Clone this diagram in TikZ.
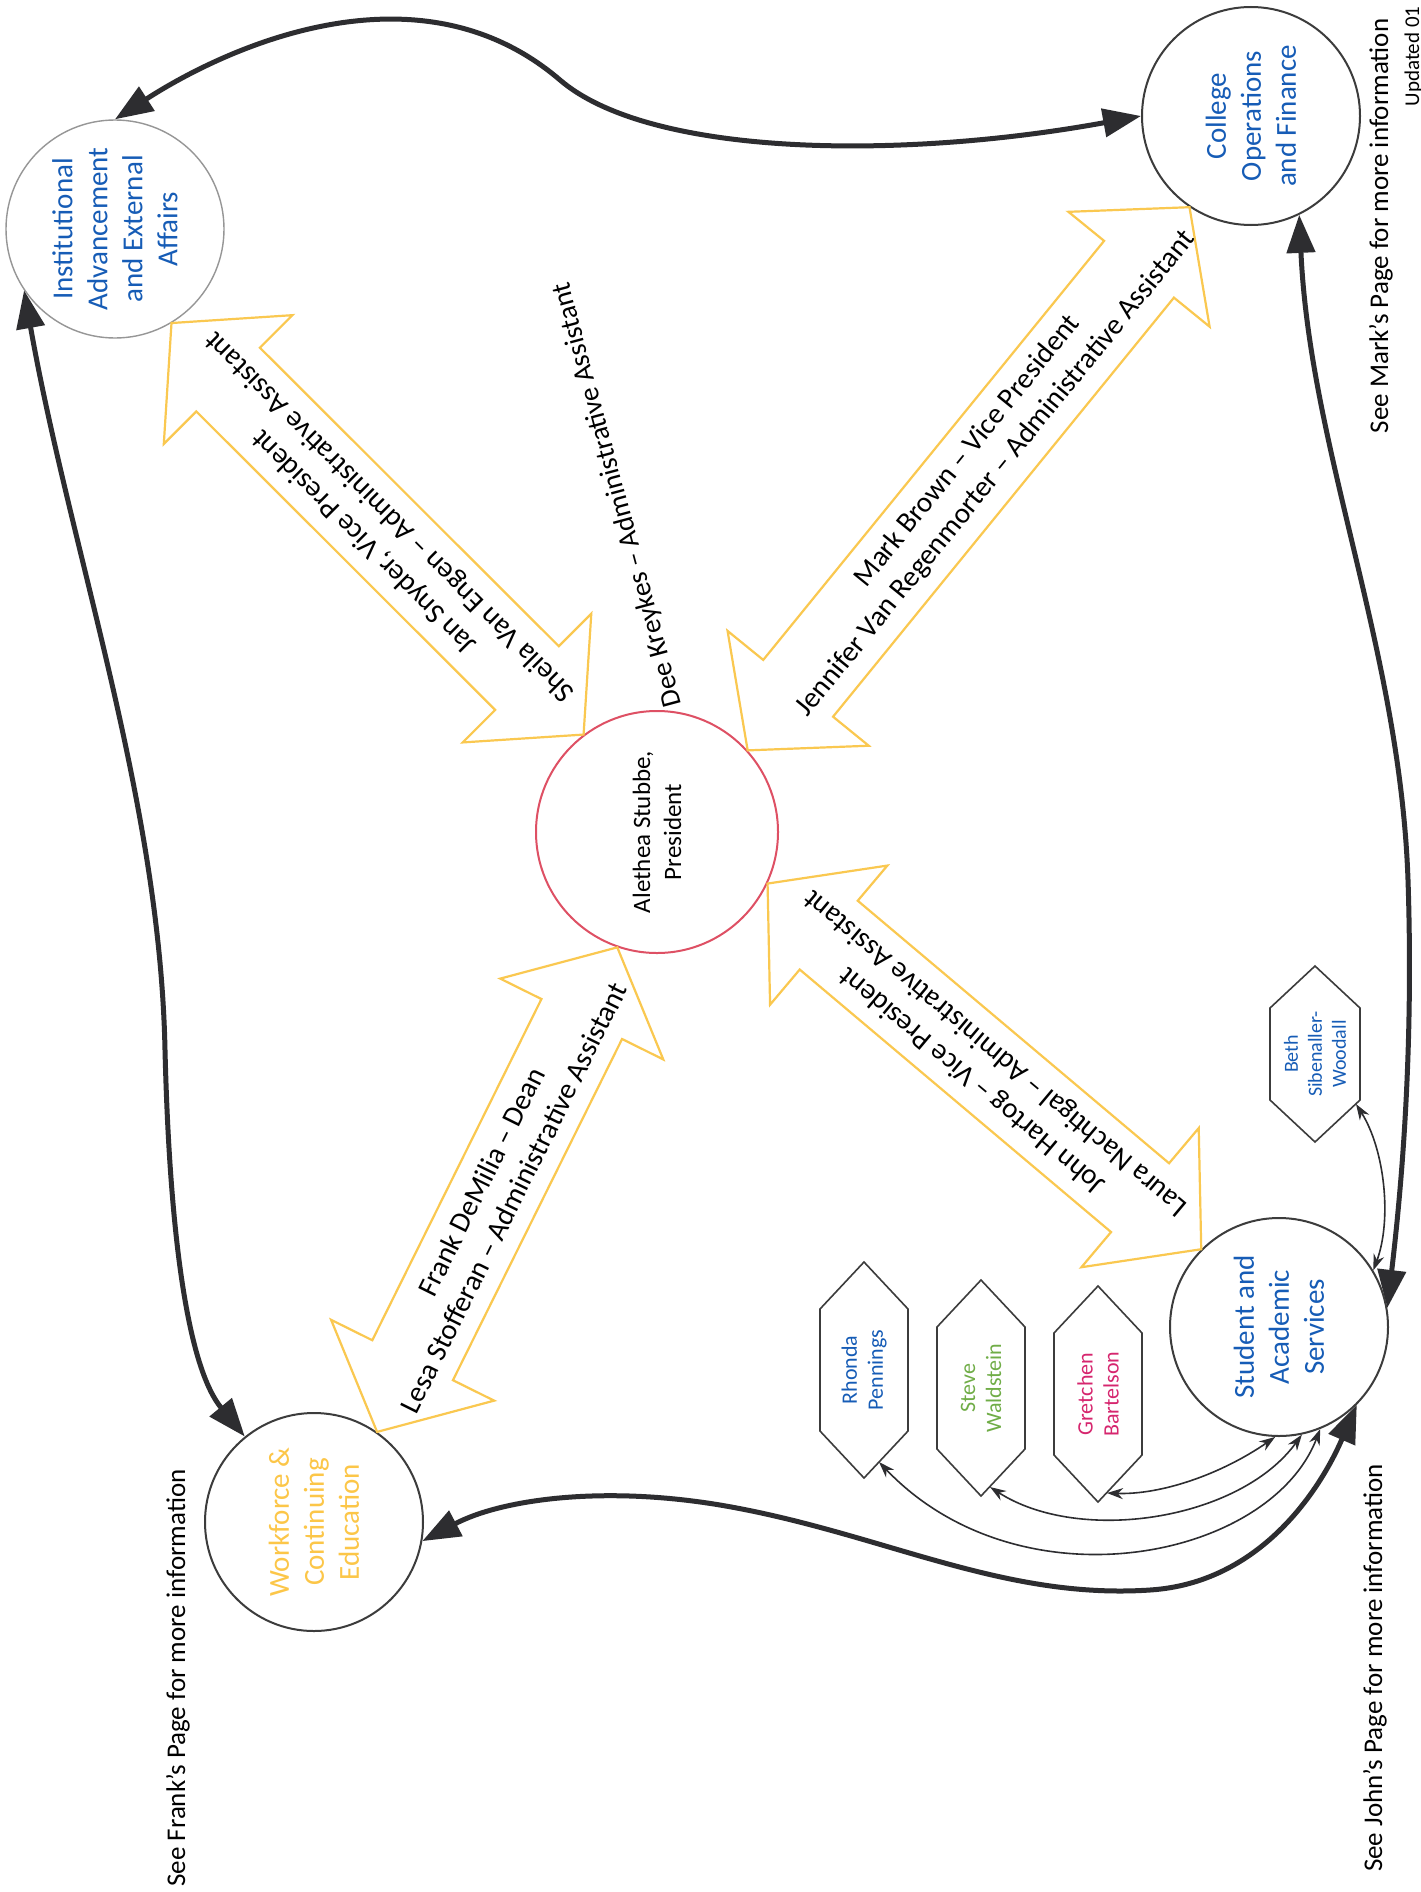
\documentclass[tikz,border=0pt]{standalone}
\usepackage{fontspec}
\setmainfont{Carlito}
\usetikzlibrary{calc,arrows.meta}

\definecolor{orgblue}{RGB}{22,92,182}
\definecolor{wfgold}{RGB}{252,198,72}
\definecolor{bandgold}{RGB}{250,200,80}
\definecolor{presred}{RGB}{222,80,100}
\definecolor{linkgray}{RGB}{45,45,48}
\definecolor{rimgray}{RGB}{60,60,60}
\definecolor{softgray}{RGB}{150,150,150}
\definecolor{stevegreen}{RGB}{112,173,71}
\definecolor{gretchenpink}{RGB}{214,38,110}

% double-headed block arrow between two tips, #3 is a name prefix
\newcommand{\yellowband}[3]{%
  \coordinate (#3-ba) at ($(#1)!80pt!(#2)$);
  \coordinate (#3-bb) at ($(#2)!80pt!(#1)$);
  \draw[band] (#1)
    -- ($(#3-ba)!91pt!90:(#2)$)
    -- ($(#3-ba)!45pt!90:(#2)$)
    -- ($(#3-bb)!45pt!-90:(#1)$)
    -- ($(#3-bb)!91pt!-90:(#1)$)
    -- (#2)
    -- ($(#3-bb)!91pt!90:(#1)$)
    -- ($(#3-bb)!45pt!90:(#1)$)
    -- ($(#3-ba)!45pt!-90:(#2)$)
    -- ($(#3-ba)!91pt!-90:(#2)$)
    -- cycle;}

% tall hexagon with pointed top and bottom around a centre coordinate
\newcommand{\hexframe}[4]{%
  \draw[hexline] ($(#1)+(0,-#3)$) -- ($(#1)+(#2,-#4)$) -- ($(#1)+(#2,#4)$)
    -- ($(#1)+(0,#3)$) -- ($(#1)+(-#2,#4)$) -- ($(#1)+(-#2,-#4)$) -- cycle;}

\begin{document}
\begin{tikzpicture}[x=1pt,y=-1pt,
  unit/.style={circle, draw=rimgray, line width=2pt, fill=white, minimum size=218pt, inner sep=0pt},
  circtext/.style={font=\fontsize{29}{35}\selectfont, text=orgblue, align=center, rotate=90},
  hexline/.style={draw=rimgray, line width=1.6pt, fill=white, line join=miter},
  hextext/.style={font=\fontsize{22}{26}\selectfont, align=center, rotate=90},
  band/.style={draw=bandgold, line width=2.2pt, fill=white, line join=miter},
  bandtext/.style={font=\fontsize{29}{36}\selectfont, align=center, text=black},
  link/.style={draw=linkgray, line width=5pt, {Triangle[length=38pt,width=28pt]}-{Triangle[length=38pt,width=28pt]}},
  sublink/.style={draw=linkgray, line width=1.6pt, {Stealth[length=16pt,width=11pt]}-{Stealth[length=16pt,width=11pt]}},
  note/.style={font=\fontsize{27}{32}\selectfont, rotate=90}
]
\fill[white] (0,0) rectangle (1421,1892);
\useasboundingbox (0,0) rectangle (1421,1892);
\clip (0,0) rectangle (1421,1892);

% ---- the five units
\node[unit, draw=softgray, line width=1.4pt] (inst) at (115,229) {};
\node[unit] (coll) at (1251,116) {};
\node[unit, draw=presred, minimum size=242pt] (pres) at (657,832) {};
\node[unit] (wf) at (314,1522) {};
\node[unit] (stu) at (1279,1327) {};

% ---- reporting bands to the president
\coordinate (ia) at (inst.-59);  \coordinate (ib) at (pres.127);
\coordinate (ca) at (coll.-124); \coordinate (cb) at (pres.42);
\coordinate (sa) at (pres.-25);  \coordinate (sb) at (stu.135);
\coordinate (wa) at (pres.-109); \coordinate (wb) at (wf.55);

\yellowband{ia}{ib}{bi}
\yellowband{ca}{cb}{bc}
\yellowband{sa}{sb}{bs}
\yellowband{wa}{wb}{bw}

\node[bandtext, rotate=135] (bi-t) at ($(ia)!0.5!(ib)$)
  {Jan Snyder, Vice President\\Sheila Van Engen – Administrative Assistant};
\node[bandtext, rotate=51] (bc-t) at ($(ca)!0.47!(cb)$)
  {Mark Brown – Vice President\\Jennifer Van Regenmorter – Administrative Assistant};
\node[bandtext, rotate=140] (bs-t) at ($(sa)!0.5!(sb)$)
  {John Hartog – Vice President\\Laura Nachtigal – Administrative Assistant};
\node[bandtext, rotate=63.6] (bw-t) at ($(wa)!0.5!(wb)$)
  {Frank DeMilia – Dean\\Lesa Stofferan – Administrative Assistant};

\node[font=\fontsize{28}{34}\selectfont, rotate=105] (dee) at (618,495)
  {Dee Kreykes – Administrative Assistant};

% ---- unit labels
\node[circtext] (inst-t) at (inst) {Institutional\\Advancement\\and External\\Affairs};
\node[circtext] (coll-t) at (coll) {College\\Operations\\and Finance};
\node[font=\fontsize{25}{31}\selectfont, align=center, rotate=90] (pres-t) at (pres) {Alethea Stubbe,\\President};
\node[circtext, text=wfgold] (wf-t) at (wf) {Workforce \&\\Continuing\\Education};
\node[circtext] (stu-t) at (stu) {Student and\\Academic\\Services};

% ---- departments under Student and Academic Services
\coordinate (rh-c) at (864,1370);  \hexframe{rh-c}{44}{108}{61}
\coordinate (st-c) at (981,1388);  \hexframe{st-c}{44}{108}{61}
\coordinate (gr-c) at (1098,1394); \hexframe{gr-c}{44}{108}{61}
\coordinate (bw-c) at (1315,1054); \hexframe{bw-c}{45}{88}{46}

\node[hextext, text=orgblue] (rh) at (rh-c) {Rhonda\\Pennings};
\node[hextext, text=stevegreen] (st) at (st-c) {Steve\\Waldstein};
\node[hextext, text=gretchenpink] (gr) at (gr-c) {Gretchen\\Bartelson};
\node[hextext, text=orgblue, font=\fontsize{20}{24}\selectfont] (bw) at (bw-c) {Beth\\Sibenaller-\\Woodall};

\coordinate (rh-foot) at ($(rh-c)+(15,92)$);
\coordinate (st-foot) at ($(st-c)+(9,99)$);
\coordinate (gr-foot) at ($(gr-c)+(9,99)$);
\coordinate (bw-foot) at ($(bw-c)+(41,50)$);

% ---- links between units
\draw[link] (inst.90) .. controls (230,45) and (420,-40) .. (560,80)
  .. controls (650,157) and (900,160) .. (coll.180);
\draw[link] (inst.214) .. controls (70,550) and (160,800) .. (165,1050)
  .. controls (170,1250) and (190,1370) .. (wf.129);
\draw[link] (wf.-10) .. controls (500,1500) and (600,1485) .. (720,1505)
  .. controls (880,1532) and (1000,1600) .. (1150,1590)
  .. controls (1260,1583) and (1320,1490) .. (stu.-45);
\draw[link] (coll.-64) .. controls (1310,450) and (1400,650) .. (1408,880)
  .. controls (1414,1060) and (1400,1200) .. (stu.10);

% ---- links to departments
\draw[sublink] (bw-foot) .. controls (1385,1150) and (1392,1220) .. (stu.31);
\draw[sublink] (stu.-92) .. controls (1220,1475) and (1160,1495) .. (gr-foot);
\draw[sublink] (stu.-78) .. controls (1240,1520) and (1080,1545) .. (st-foot);
\draw[sublink] (stu.-68) .. controls (1270,1560) and (1020,1610) .. (rh-foot);

% ---- margin notes
\node[note] (frank-note) at (178,1678) {See Frank’s Page for more information};
\node[note] (john-note) at (1375,1668) {See John’s Page for more information};
\node[note] (mark-note) at (1381,226) {See Mark’s Page for more information};
\node[font=\fontsize{21}{25}\selectfont, rotate=90, anchor=base east] (upd) at (1419,3) {Updated 01};
\end{tikzpicture}
\end{document}
